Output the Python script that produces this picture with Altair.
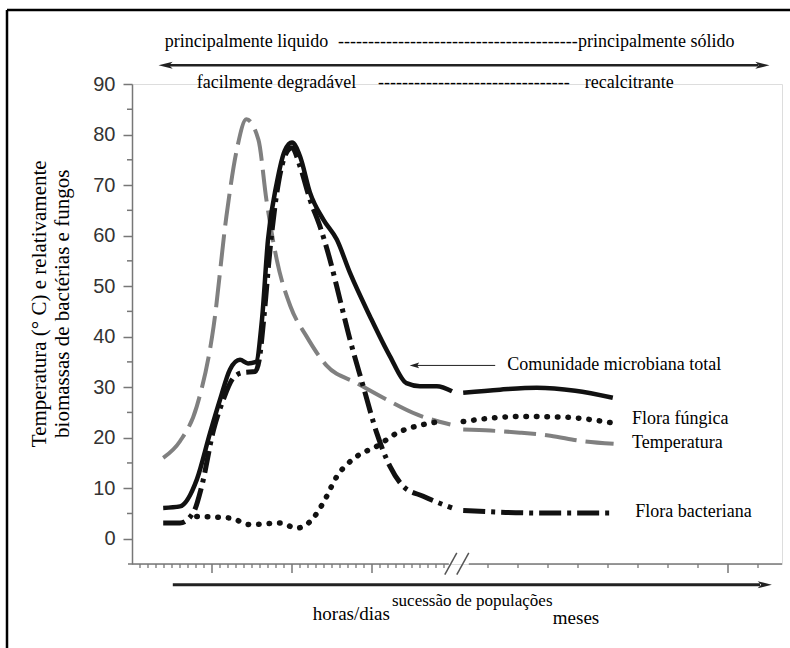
import altair as alt
import pandas as pd

# ---------------- data (time units: 1 = one minor tick; value units: chart y) ----
temp_t1 = [3.9, 6.0, 8.1, 10.2, 11.8, 13.1, 14.3, 15.8, 16.8, 18.1, 19.8, 21.8, 24.3, 28.1, 31.4, 35.6, 39.8]
temp_v1 = [16.0, 19.3, 26.2, 42.0, 63.8, 77.0, 83.0, 79.0, 67.1, 55.2, 46.0, 40.1, 34.3, 30.8, 27.9, 24.6, 22.6]
temp_t2 = [41.4, 44.8, 48.5, 52.3, 56.0, 60.2]
temp_v2 = [21.6, 21.4, 21.0, 20.4, 19.4, 18.8]

total_t1 = [3.9, 6.0, 8.1, 9.75, 11.0, 12.25, 13.5, 14.5, 15.5, 16.25, 17.0, 18.1, 19.1, 20.0, 21.0, 22.25, 23.9, 25.6, 27.25, 29.75, 32.25, 34.3, 36.0, 38.1, 40.0]
total_v1 = [6.1, 6.4, 11.7, 20.9, 27.5, 33.5, 35.4, 34.7, 35.0, 43.4, 59.2, 70.4, 76.8, 78.4, 75.7, 68.5, 63.2, 59.2, 52.6, 44.0, 36.1, 30.8, 30.2, 30.2, 29.2]
total_t2 = [41.4, 46.0, 50.6, 55.4, 60.1]
total_v2 = [28.9, 29.5, 29.9, 29.3, 27.9]

bact_t1 = [3.9, 6.0, 7.7, 8.7, 10.2, 11.4, 12.7, 13.9, 15.4, 15.9, 16.5, 17.25, 18.3, 19.3, 20.0, 21.0, 22.25, 23.5, 24.75, 26.0, 27.25, 28.9, 30.6, 32.25, 33.9, 36.4, 40.0]
bact_v1 = [3.1, 3.1, 5.3, 10.3, 21.6, 27.5, 31.9, 32.9, 33.1, 35.4, 44.0, 57.2, 70.4, 76.4, 77.4, 73.7, 67.1, 61.8, 55.2, 47.3, 39.4, 30.2, 20.9, 14.3, 10.4, 8.4, 6.1]
bact_t2 = [41.4, 51.0, 60.2]
bact_v2 = [5.6, 5.1, 5.1]

fung_t1 = [8.1, 12.25, 14.75, 18.5, 20.6, 22.5, 23.9, 25.6, 28.1, 30.6, 33.1, 36.4, 38.5]
fung_v1 = [4.4, 4.1, 2.8, 3.1, 2.1, 3.8, 7.1, 12.3, 16.3, 18.3, 20.9, 22.6, 23.2]
fung_t2 = [41.4, 48.5, 53.5, 60.2]
fung_v2 = [23.2, 24.2, 24.1, 22.9]

y_major = [0, 10, 20, 30, 40, 50, 60, 70, 80, 90]
y_minor = [5, 15, 25, 35, 45, 55, 65, 75, 85]
x_minor = [t for t in range(1, 40) if t % 10 != 0] + [44.5, 48.25, 52.0, 55.75, 59.5, 63.25, 67.0, 70.75, 78.25]
x_major = [10, 20, 30, 74.5]

top_labels = ["principalmente liquido", "-" * 40, "principalmente sólido",
              "facilmente degradável", "-" * 32, "recalcitrante"]
top_t = [4.1, 25.75, 55.75, 8.1, 30.75, 56.6]
top_v = [98.4, 98.4, 98.4, 90.1, 90.1, 90.1]

curve_labels = ["Comunidade microbiana total", "Flora fúngica", "Temperatura", "Flora bacteriana"]
curve_lab_t = [46.9, 62.5, 62.5, 62.9]
curve_lab_v = [34.3, 23.6, 19.0, 5.3]

bottom_big = ["horas/dias", "meses"]
bottom_big_t = [22.6, 52.6]
bottom_big_v = [-14.9, -15.6]
bottom_small = ["sucessão de populações"]
bottom_small_t = [32.5]
bottom_small_v = [-12.3]

ytitle = ["Temperatura (° C) e relativamente", "biomassas de bactérias e fungos"]
ytitle_t = [-11.5, -8.6]
ytitle_v = [46.5, 46.5]

# arrows: [t_start, t_end, v]
top_arrow = [4.6, 78.3, 93.7]
bottom_arrow = [5.1, 78.5, -9.1]
com_arrow = [35.3, 45.4, 34.3]

# ---------------- helpers ----------------
XD = [0, 81.25]
YD = [-5, 90]
FONT = "Liberation Serif, Times New Roman, DejaVu Serif, serif"
SANS = "Liberation Sans, Arial, DejaVu Sans, sans-serif"

YAXIS = alt.Axis(values=y_major, tickSize=9, labelFontSize=20, labelFont=SANS,
                 labelColor="#333", domainColor="#777", tickColor="#777", domainWidth=1.5,
                 tickWidth=1.5, labelPadding=8, grid=False, title=None)


def X(f="t"):
    return alt.X(f"{f}:Q", scale=alt.Scale(domain=XD, nice=False, zero=False), axis=None)


def Y(f="v"):
    return alt.Y(f"{f}:Q", scale=alt.Scale(domain=YD, nice=False, zero=False), axis=YAXIS)


def seg_df(t1, v1, t2, v2):
    return pd.DataFrame({"t": t1 + t2, "v": v1 + v2,
                         "seg": ["a"] * len(t1) + ["b"] * len(t2)})


def line(df, **kw):
    return alt.Chart(df).mark_line(interpolate="monotone", **kw).encode(
        x=X(), y=Y(), detail="seg:N")


def texts(labels, ts, vs, size, **kw):
    df = pd.DataFrame({"t": ts, "v": vs, "label": labels})
    return alt.Chart(df).mark_text(font=FONT, fontSize=size, color="black",
                                   align="left", baseline="middle", **kw).encode(
        x=X(), y=Y(), text="label:N")


layers = []

# y minor ticks
layers.append(alt.Chart(pd.DataFrame({"v": y_minor})).mark_rule(color="#777", strokeWidth=1.5).encode(
    x=alt.value(-5), x2=alt.value(0), y=Y()))

# x axis line (two pieces around break)
xline = pd.DataFrame({"t": [-0.5, 42.1], "t2": [39.6, 81.25], "v": [-5, -5]})
layers.append(alt.Chart(xline).mark_rule(color="#777", strokeWidth=1.5).encode(
    x=X(), x2="t2:Q", y=Y()))

# x ticks
layers.append(alt.Chart(pd.DataFrame({"t": x_minor})).mark_rule(color="#777", strokeWidth=1.3).encode(
    x=X(), y=alt.value(480), y2=alt.value(484)))
layers.append(alt.Chart(pd.DataFrame({"t": x_major})).mark_rule(color="#777", strokeWidth=1.5).encode(
    x=X(), y=alt.value(480), y2=alt.value(489)))

# break marks //
brk = pd.DataFrame({"t": [39.1, 40.6], "t2": [40.6, 42.1], "v": [-7.1, -7.1], "v2": [-2.8, -2.8]})
layers.append(alt.Chart(brk).mark_rule(color="#555", strokeWidth=1.5).encode(
    x=X(), x2="t2:Q", y=Y(), y2="v2:Q"))

# curves
layers.append(line(seg_df(temp_t1, temp_v1, temp_t2, temp_v2), color="#808080",
                   strokeWidth=4, strokeDash=[32, 9]))
layers.append(line(seg_df(fung_t1, fung_v1, fung_t2, fung_v2), color="#111",
                   strokeWidth=5.5, strokeDash=[0.5, 10], strokeCap="round"))
layers.append(line(seg_df(bact_t1, bact_v1, bact_t2, bact_v2), color="#111",
                   strokeWidth=5, strokeDash=[22, 6, 4, 6]))
layers.append(line(seg_df(total_t1, total_v1, total_t2, total_v2), color="#111",
                   strokeWidth=4.5))

# arrows
arr = pd.DataFrame({"t": [top_arrow[0], bottom_arrow[0], com_arrow[0]],
                    "t2": [top_arrow[1], bottom_arrow[1], com_arrow[1]],
                    "v": [top_arrow[2], bottom_arrow[2], com_arrow[2]],
                    "w": [2.5, 3.0, 1.0]})
layers.append(alt.Chart(arr).mark_rule(color="#222").encode(
    x=X(), x2="t2:Q", y=Y(), strokeWidth=alt.StrokeWidth("w:Q", scale=None)))

head = "M -1 0 L 1 -0.5 L 0.5 0 L 1 0.5 Z"
heads = pd.DataFrame({"t": [top_arrow[0] - 0.4, top_arrow[1] + 0.5, bottom_arrow[1] + 0.6],
                      "v": [top_arrow[2], top_arrow[2], bottom_arrow[2]],
                      "ang": [0, 180, 180]})
layers.append(alt.Chart(heads).mark_point(shape=head, filled=True, color="#222", size=200, opacity=1).encode(
    x=X(), y=Y(), angle=alt.Angle("ang:Q", scale=None)))
com_head = pd.DataFrame({"t": [com_arrow[0]], "v": [com_arrow[2]]})
layers.append(alt.Chart(com_head).mark_point(shape="M -1 0 L 1 -0.6 L 0.6 0 L 1 0.6 Z", filled=True,
                                              color="#222", size=90, opacity=1).encode(x=X(), y=Y()))

# texts
layers.append(texts(top_labels, top_t, top_v, 18))
layers.append(texts(curve_labels, curve_lab_t, curve_lab_v, 18))
layers.append(texts(bottom_big, bottom_big_t, bottom_big_v, 19))
layers.append(texts(bottom_small, bottom_small_t, bottom_small_v, 17))
ydf = pd.DataFrame({"t": ytitle_t, "v": ytitle_v, "label": ytitle})
layers.append(alt.Chart(ydf).mark_text(font=FONT, fontSize=21, color="black", align="center",
                                       baseline="middle", angle=270).encode(x=X(), y=Y(), text="label:N"))

# frame (left and top edges)
layers.append(alt.Chart(pd.DataFrame({"a": [0]})).mark_rule(color="black", strokeWidth=2.5).encode(
    x=alt.value(-125), y=alt.value(-74), y2=alt.value(564)))
layers.append(alt.Chart(pd.DataFrame({"a": [0]})).mark_rule(color="black", strokeWidth=2.5).encode(
    x=alt.value(-125), x2=alt.value(660), y=alt.value(-74)))

chart = alt.layer(*layers).properties(
    width=650, height=480,
    padding={"left": 132, "top": 84, "right": 8, "bottom": 84},
    autosize="none",
).configure_view(strokeWidth=0).configure(background="white")

chart.save("out.html", embed_options={"renderer": "svg", "actions": False})
